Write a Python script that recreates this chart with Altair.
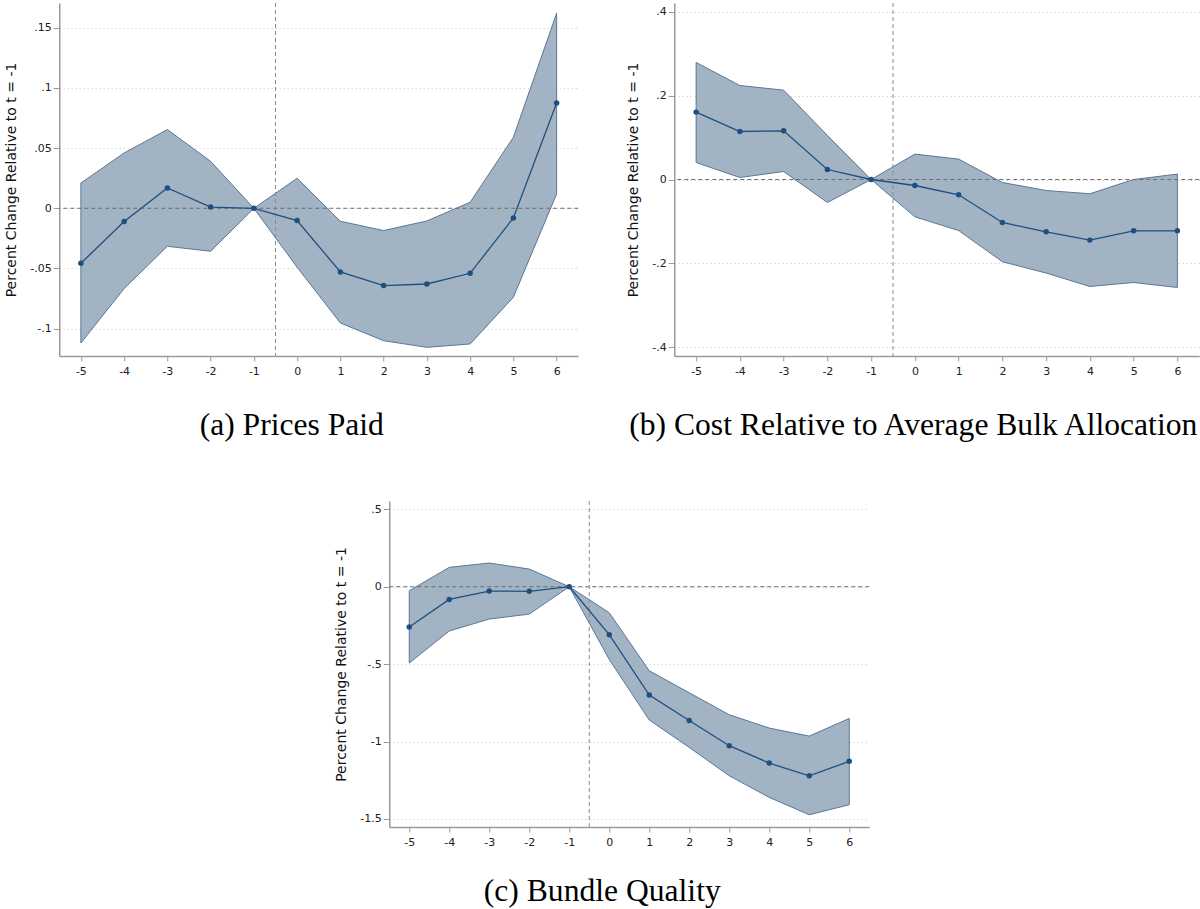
import altair as alt
import pandas as pd

periods = [-5, -4, -3, -2, -1, 0, 1, 2, 3, 4, 5, 6]

# (a) Prices Paid
a_est = [-0.0457, -0.011, 0.0169, 0.001, 0.0, -0.0102, -0.0529, -0.0642, -0.0629, -0.054, -0.008, 0.0875]
a_hi = [0.021, 0.0459, 0.0654, 0.039, 0.0, 0.0249, -0.0108, -0.0185, -0.0105, 0.005, 0.059, 0.162]
a_lo = [-0.1119, -0.0667, -0.0316, -0.0357, 0.0, -0.049, -0.0953, -0.110, -0.1155, -0.1127, -0.0739, 0.0119]

# (b) Cost Relative to Average Bulk Allocation
b_est = [0.1606, 0.1144, 0.116, 0.0238, 0.0, -0.0143, -0.0365, -0.1025, -0.1247, -0.1445, -0.1223, -0.1223]
b_hi = [0.279, 0.224, 0.213, 0.105, 0.0, 0.0605, 0.0486, -0.0072, -0.0262, -0.034, 0.0, 0.0129]
b_lo = [0.0405, 0.0048, 0.019, -0.0548, 0.0, -0.089, -0.1216, -0.196, -0.223, -0.255, -0.2455, -0.2574]

# (c) Bundle Quality
c_est = [-0.260, -0.082, -0.028, -0.030, 0.0, -0.310, -0.700, -0.864, -1.027, -1.139, -1.221, -1.128]
c_hi = [-0.026, 0.125, 0.153, 0.114, 0.0, -0.168, -0.543, -0.685, -0.827, -0.913, -0.965, -0.851]
c_lo = [-0.493, -0.286, -0.209, -0.177, 0.0, -0.47, -0.861, -1.038, -1.221, -1.361, -1.473, -1.408]

a_ticks = [-0.1, -0.05, 0, 0.05, 0.1, 0.15]
b_ticks = [-0.4, -0.2, 0, 0.2, 0.4]
c_ticks = [-1.5, -1, -0.5, 0, 0.5]

y_title = "Percent Change Relative to t = -1"
event_line = [-0.5]
zero_line = [0]

FILL = "#a2b3c4"
EDGE = "#5a7796"
LINE = "#1d4f7f"
AXIS = "#9a9a9a"

num_label = "(datum.value < 0 ? '-' : '') + replace(format(abs(datum.value), '.2~f'), '0.', '.')"
int_label = "(datum.value < 0 ? '-' : '') + format(abs(datum.value), 'd')"


def panel(est, lo, hi, ydom, yticks, w, h, caption, cap_offset):
    df = pd.DataFrame({"t": periods, "est": est, "lo": lo, "hi": hi})
    xs = alt.Scale(domain=[-5.5, 6.5], nice=False, zero=False)
    ys = alt.Scale(domain=ydom, nice=False, zero=False)
    xax = alt.Axis(values=periods, labelExpr=int_label, grid=False, title=None,
                   domainColor=AXIS, domainWidth=1.5, tickColor=AXIS, tickSize=5,
                   labelFontSize=11, labelFont="DejaVu Sans", labelColor="#222",
                   labelPadding=4)
    yax = alt.Axis(values=yticks, labelExpr=num_label, grid=True, gridDash=[1, 3],
                   gridColor="#c4c4c4", gridWidth=1, title=y_title, titleFont="DejaVu Sans",
                   titleFontSize=14, titleFontWeight="normal", titleColor="#111",
                   titlePadding=11, domainColor=AXIS, domainWidth=1.5, tickColor=AXIS,
                   tickSize=6, labelFontSize=11, labelFont="DejaVu Sans",
                   labelColor="#222", labelPadding=2)
    base = alt.Chart(df)
    band = base.mark_area(fill=FILL, stroke=EDGE, strokeWidth=1, opacity=1).encode(
        x=alt.X("t:Q", scale=xs, axis=xax),
        y=alt.Y("lo:Q", scale=ys, axis=yax),
        y2="hi:Q",
    )
    hrule = alt.Chart(pd.DataFrame({"y": zero_line})).mark_rule(
        color="#6e6e6e", strokeDash=[4, 3], strokeWidth=1
    ).encode(y=alt.Y("y:Q", scale=ys))
    vrule = alt.Chart(pd.DataFrame({"x": event_line})).mark_rule(
        color="#8a8a8a", strokeDash=[4, 3], strokeWidth=1
    ).encode(x=alt.X("x:Q", scale=xs))
    line = base.mark_line(color=LINE, strokeWidth=1.3).encode(
        x=alt.X("t:Q", scale=xs), y=alt.Y("est:Q", scale=ys)
    )
    pts = base.mark_circle(color=LINE, size=30, opacity=1).encode(
        x=alt.X("t:Q", scale=xs), y=alt.Y("est:Q", scale=ys)
    )
    return alt.layer(band, hrule, vrule, line, pts).properties(
        width=w, height=h,
        title=alt.TitleParams(caption, orient="bottom", anchor="middle", frame="bounds",
                              font="Liberation Serif", fontSize=31.6,
                              fontWeight="normal", color="#000", offset=cap_offset),
    )


pa = panel(a_est, a_lo, a_hi, [-0.1227, 0.1705], a_ticks, 519, 353, "(a) Prices Paid", 34)
pb = panel(b_est, b_lo, b_hi, [-0.4207, 0.4207], b_ticks, 525, 353,
           "(b) Cost Relative to Average Bulk Allocation", 34)
pc = panel(c_est, c_lo, c_hi, [-1.552, 0.5536], c_ticks, 480, 326, "(c) Bundle Quality", 29)

top = alt.hconcat(pa, pb, spacing=47)
chart = alt.vconcat(top, pc, spacing=58, center=True).properties(
    padding={"left": 4, "top": 2, "right": 0, "bottom": 0},
    background="white",
).configure_view(stroke=None)

chart.save("out.html", embed_options={"renderer": "svg", "actions": False})
